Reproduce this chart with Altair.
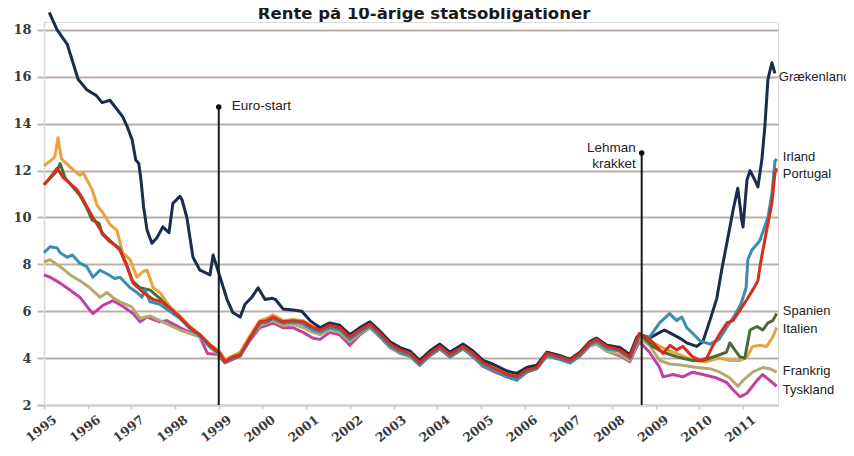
import altair as alt
import pandas as pd

TITLE = "Rente på 10-årige statsobligationer"

YEAR_TICKS = list(range(1995, 2012))
RATE_TICKS = [2, 4, 6, 8, 10, 12, 14, 16, 18]

# shared dates for the converged period 2001-2008
MID_T = [2001.54, 2001.77, 2002.0, 2002.23, 2002.46, 2002.69, 2002.92, 2003.15, 2003.38, 2003.6,
         2003.83, 2004.06, 2004.29, 2004.59, 2004.82, 2005.05, 2005.27, 2005.6, 2005.82, 2006.05,
         2006.28, 2006.51, 2006.81, 2007.04, 2007.27, 2007.49, 2007.65, 2007.88, 2008.18, 2008.41,
         2008.57]

# ---------------- Tyskland ----------------
TY_EARLY_T = [1995.0, 1995.14, 1995.37, 1995.6, 1995.82, 1996.05, 1996.12, 1996.35, 1996.58, 1996.81,
              1997.04, 1997.2, 1997.36, 1997.65, 1997.81, 1998.11, 1998.34, 1998.57, 1998.74, 1998.97,
              1999.14, 1999.32, 1999.49, 1999.71, 1999.94, 2000.1, 2000.24, 2000.47, 2000.7, 2000.93,
              2001.16, 2001.32]
TY_EARLY_V = [7.55, 7.45, 7.2, 6.9, 6.6, 6.05, 5.9, 6.25, 6.45, 6.2,
              5.9, 5.55, 5.75, 5.55, 5.6, 5.3, 5.1, 4.9, 4.2, 4.15,
              3.8, 3.95, 4.1, 4.75, 5.3, 5.4, 5.5, 5.3, 5.3, 5.1,
              4.85, 4.8]
TY_MID_V = [5.1, 5.0, 4.55, 5.0, 5.3, 4.9, 4.45, 4.2, 4.1, 3.7, 4.1, 4.4, 4.05, 4.4, 4.05, 3.65,
            3.45, 3.2, 3.1, 3.4, 3.55, 4.1, 3.95, 3.8, 4.1, 4.55, 4.6, 4.3, 4.1, 3.85, 4.5]
TY_LATE_T = [2008.63, 2008.86, 2009.09, 2009.17, 2009.4, 2009.62, 2009.85, 2010.08, 2010.4, 2010.63,
             2010.77, 2010.93, 2011.09, 2011.32, 2011.45, 2011.61, 2011.77]
TY_LATE_V = [4.7, 4.25, 3.6, 3.2, 3.3, 3.2, 3.4, 3.3, 3.15, 2.95,
             2.65, 2.35, 2.5, 3.05, 3.3, 3.05, 2.8]

# ---------------- Frankrig ----------------
FR_EARLY_T = [1995.0, 1995.14, 1995.37, 1995.6, 1995.82, 1996.05, 1996.28, 1996.44, 1996.6, 1996.74,
              1997.0, 1997.2, 1997.43, 1997.65, 1997.88, 1998.11, 1998.34, 1998.57, 1998.8, 1999.03,
              1999.14, 1999.32, 1999.49, 1999.71, 1999.94, 2000.1, 2000.24, 2000.47, 2000.7, 2000.93,
              2001.16, 2001.32]
FR_EARLY_V = [8.1, 8.2, 7.9, 7.55, 7.3, 7.0, 6.6, 6.8, 6.55, 6.4,
              6.2, 5.7, 5.8, 5.6, 5.4, 5.2, 5.05, 4.9, 4.45, 4.1,
              3.85, 4.0, 4.15, 4.8, 5.4, 5.5, 5.6, 5.4, 5.45, 5.3,
              5.1, 5.0]
FR_MID_V = [5.2, 5.1, 4.7, 5.05, 5.3, 4.9, 4.45, 4.2, 4.05, 3.7, 4.1, 4.4, 4.05, 4.4, 4.1, 3.7,
            3.5, 3.25, 3.15, 3.45, 3.55, 4.1, 3.95, 3.8, 4.1, 4.5, 4.6, 4.3, 4.15, 3.9, 4.6]
FR_LATE_T = [2008.63, 2008.86, 2009.09, 2009.32, 2009.62, 2009.94, 2010.24, 2010.47, 2010.7, 2010.88,
             2011.0, 2011.22, 2011.45, 2011.61, 2011.77]
FR_LATE_V = [4.85, 4.55, 3.9, 3.75, 3.7, 3.6, 3.55, 3.4, 3.15, 2.8,
             3.05, 3.4, 3.6, 3.55, 3.4]

# ---------------- Italien ----------------
IT_EARLY_T = [1995.0, 1995.2, 1995.25, 1995.32, 1995.4, 1995.6, 1995.82, 1995.9, 1996.1, 1996.22,
              1996.35, 1996.51, 1996.67, 1996.8, 1996.97, 1997.13, 1997.27, 1997.36, 1997.5, 1997.65,
              1997.88, 1998.11, 1998.34, 1998.57, 1998.8, 1999.03, 1999.14, 1999.32, 1999.49, 1999.71,
              1999.94, 2000.1, 2000.24, 2000.47, 2000.7, 2000.93, 2001.16, 2001.32]
IT_EARLY_V = [12.2, 12.5, 12.6, 13.4, 12.5, 12.15, 11.8, 11.9, 11.2, 10.5,
              10.2, 9.7, 9.45, 8.5, 8.2, 7.45, 7.7, 7.75, 7.0, 6.8,
              6.2, 5.8, 5.35, 5.0, 4.6, 4.25, 3.95, 4.1, 4.25, 4.95,
              5.6, 5.7, 5.85, 5.6, 5.65, 5.6, 5.35, 5.25]
IT_MID_V = [5.45, 5.35, 5.0, 5.25, 5.5, 5.1, 4.65, 4.4, 4.25, 3.85, 4.25, 4.55, 4.2, 4.55, 4.25, 3.85,
            3.65, 3.4, 3.3, 3.6, 3.7, 4.25, 4.1, 3.95, 4.25, 4.7, 4.85, 4.55, 4.45, 4.15, 4.85]
IT_LATE_T = [2008.63, 2008.94, 2009.26, 2009.55, 2009.85, 2010.17, 2010.47, 2010.7, 2010.93, 2011.09,
             2011.22, 2011.38, 2011.54, 2011.68, 2011.77]
IT_LATE_V = [5.0, 4.65, 4.35, 4.15, 3.9, 3.85, 4.0, 3.9, 3.9, 4.05,
             4.5, 4.55, 4.5, 4.9, 5.3]

# ---------------- Spanien ----------------
SP_EARLY_T = [1995.0, 1995.3, 1995.37, 1995.48, 1995.66, 1995.82, 1995.97, 1996.1, 1996.26, 1996.33,
              1996.49, 1996.72, 1996.88, 1997.02, 1997.2, 1997.43, 1997.65, 1997.88, 1998.11, 1998.34,
              1998.57, 1998.8, 1999.03, 1999.14, 1999.32, 1999.49, 1999.71, 1999.94, 2000.1, 2000.24,
              2000.47, 2000.7, 2000.93, 2001.16, 2001.32]
SP_EARLY_V = [11.4, 12.0, 12.3, 11.7, 11.3, 10.95, 10.45, 9.9, 9.75, 9.3,
              9.0, 8.7, 8.05, 7.3, 7.0, 6.9, 6.55, 6.1, 5.7, 5.3,
              4.95, 4.5, 4.15, 3.85, 4.0, 4.1, 4.8, 5.5, 5.55, 5.7,
              5.5, 5.55, 5.5, 5.25, 5.15]
SP_MID_V = [5.35, 5.25, 4.85, 5.15, 5.4, 5.0, 4.55, 4.3, 4.15, 3.75, 4.15, 4.45, 4.1, 4.45, 4.15, 3.75,
            3.55, 3.3, 3.2, 3.5, 3.6, 4.15, 4.0, 3.85, 4.15, 4.6, 4.75, 4.45, 4.3, 4.0, 4.7]
SP_LATE_T = [2008.63, 2008.93, 2009.17, 2009.49, 2009.85, 2010.08, 2010.4, 2010.62, 2010.7, 2010.81,
             2010.93, 2011.04, 2011.16, 2011.32, 2011.45, 2011.57, 2011.68, 2011.77]
SP_LATE_V = [5.05, 4.5, 4.25, 4.05, 3.9, 3.9, 4.1, 4.25, 4.65, 4.35,
             4.05, 4.0, 5.2, 5.35, 5.2, 5.5, 5.6, 5.9]

# ---------------- Grækenland ----------------
GR_EARLY_T = [1995.12, 1995.3, 1995.53, 1995.78, 1995.98, 1996.2, 1996.33, 1996.51, 1996.8, 1996.91,
              1997.02, 1997.1, 1997.17, 1997.22, 1997.28, 1997.36, 1997.47, 1997.59, 1997.72, 1997.86,
              1997.95, 1998.11, 1998.16, 1998.27, 1998.41, 1998.57, 1998.8, 1998.87, 1998.98, 1999.19,
              1999.32, 1999.49, 1999.6, 1999.76, 1999.9, 2000.06, 2000.22, 2000.3, 2000.47, 2000.7,
              2000.9, 2001.09, 2001.32]
GR_EARLY_V = [18.75, 18.0, 17.4, 15.9, 15.45, 15.2, 14.9, 15.0, 14.3, 13.85,
              13.3, 12.45, 12.3, 11.6, 10.45, 9.45, 8.9, 9.15, 9.6, 9.35,
              10.6, 10.9, 10.75, 10.0, 8.3, 7.75, 7.55, 8.4, 7.75, 6.5,
              5.95, 5.75, 6.3, 6.6, 7.0, 6.5, 6.55, 6.5, 6.1, 6.05,
              6.0, 5.6, 5.3]
GR_MID_V = [5.5, 5.4, 5.0, 5.3, 5.55, 5.15, 4.7, 4.45, 4.3, 3.9, 4.3, 4.6, 4.25, 4.6, 4.3, 3.9,
            3.75, 3.45, 3.35, 3.6, 3.7, 4.25, 4.1, 3.95, 4.25, 4.7, 4.85, 4.55, 4.45, 4.15, 4.9]
GR_LATE_T = [2008.63, 2008.86, 2009.0, 2009.2, 2009.4, 2009.6, 2009.71, 2009.94, 2010.08, 2010.24,
             2010.4, 2010.51, 2010.7, 2010.77, 2010.88, 2010.97, 2011.0, 2011.09, 2011.16, 2011.27,
             2011.34, 2011.43, 2011.5, 2011.57, 2011.66, 2011.73]
GR_LATE_V = [5.0, 4.85, 5.0, 5.2, 5.0, 4.8, 4.65, 4.5, 4.7, 5.6,
             6.55, 7.75, 9.6, 10.3, 11.25, 9.9, 9.6, 11.6, 12.0, 11.6,
             11.3, 12.45, 13.9, 15.9, 16.6, 16.15]

# ---------------- Irland ----------------
IR_EARLY_T = [1995.0, 1995.14, 1995.3, 1995.37, 1995.53, 1995.65, 1995.82, 1995.98, 1996.12, 1996.28,
              1996.44, 1996.62, 1996.74, 1996.97, 1997.13, 1997.24, 1997.31, 1997.43, 1997.65, 1997.88,
              1998.11, 1998.34, 1998.57, 1998.8, 1999.03, 1999.14, 1999.32, 1999.49, 1999.71, 1999.94,
              2000.1, 2000.24, 2000.47, 2000.7, 2000.93, 2001.16, 2001.32]
IR_EARLY_V = [8.5, 8.75, 8.7, 8.5, 8.3, 8.4, 8.05, 7.9, 7.45, 7.75,
              7.6, 7.4, 7.45, 7.0, 6.8, 6.6, 6.9, 6.4, 6.3, 6.0,
              5.7, 5.25, 4.95, 4.5, 4.15, 3.85, 4.0, 4.15, 4.8, 5.5,
              5.55, 5.7, 5.5, 5.55, 5.45, 5.2, 5.1]
IR_MID_V = [5.3, 5.2, 4.8, 5.1, 5.35, 4.95, 4.5, 4.25, 4.1, 3.7, 4.1, 4.4, 4.05, 4.4, 4.1, 3.7,
            3.5, 3.2, 3.05, 3.4, 3.55, 4.1, 3.95, 3.8, 4.1, 4.55, 4.7, 4.4, 4.3, 4.0, 4.7]
IR_LATE_T = [2008.63, 2008.86, 2009.09, 2009.32, 2009.48, 2009.6, 2009.71, 2009.85, 2010.01, 2010.24,
             2010.45, 2010.62, 2010.8, 2010.95, 2011.07, 2011.11, 2011.2, 2011.38, 2011.57, 2011.66,
             2011.73, 2011.77]
IR_LATE_V = [5.0, 4.9, 5.5, 5.9, 5.6, 5.75, 5.3, 5.05, 4.75, 4.6,
             4.8, 5.3, 5.8, 6.3, 7.0, 8.2, 8.6, 9.0, 10.0, 11.0,
             12.4, 12.5]

# ---------------- Portugal ----------------
PT_EARLY_T = [1995.0, 1995.14, 1995.3, 1995.44, 1995.75, 1995.9, 1996.12, 1996.35, 1996.58, 1996.74,
              1996.9, 1997.04, 1997.27, 1997.5, 1997.7, 1997.88, 1998.11, 1998.34, 1998.57, 1998.8,
              1999.03, 1999.14, 1999.32, 1999.49, 1999.71, 1999.94, 2000.1, 2000.24, 2000.47, 2000.7,
              2000.93, 2001.16, 2001.32]
PT_EARLY_V = [11.4, 11.7, 12.1, 11.7, 11.2, 10.75, 10.0, 9.3, 8.9, 8.6,
              7.9, 7.2, 6.8, 6.5, 6.4, 6.15, 5.75, 5.3, 5.0, 4.55,
              4.2, 3.85, 4.05, 4.15, 4.85, 5.55, 5.6, 5.75, 5.55, 5.6,
              5.55, 5.3, 5.2]
PT_MID_V = [5.4, 5.3, 4.9, 5.2, 5.45, 5.05, 4.6, 4.35, 4.2, 3.8, 4.2, 4.5, 4.15, 4.5, 4.2, 3.8,
            3.6, 3.3, 3.2, 3.5, 3.6, 4.2, 4.05, 3.9, 4.2, 4.65, 4.8, 4.5, 4.35, 4.05, 4.8]
PT_LATE_T = [2008.63, 2008.86, 2009.02, 2009.17, 2009.33, 2009.48, 2009.62, 2009.85, 2010.01, 2010.17,
             2010.3, 2010.47, 2010.63, 2010.77, 2010.93, 2011.09, 2011.22, 2011.34, 2011.4, 2011.54,
             2011.66, 2011.73, 2011.77]
PT_LATE_V = [5.05, 4.8, 4.5, 4.2, 4.55, 4.35, 4.5, 4.05, 3.9, 4.0,
             4.5, 5.05, 5.5, 5.6, 6.05, 6.5, 6.9, 7.3, 8.05, 9.45,
             10.6, 11.9, 12.1]

# drawing order (bottom to top), colours
SERIES = [
    ("Tyskland", "#c2409e", TY_EARLY_T, TY_EARLY_V, TY_MID_V, TY_LATE_T, TY_LATE_V),
    ("Frankrig", "#b3ab6c", FR_EARLY_T, FR_EARLY_V, FR_MID_V, FR_LATE_T, FR_LATE_V),
    ("Italien", "#e8a23e", IT_EARLY_T, IT_EARLY_V, IT_MID_V, IT_LATE_T, IT_LATE_V),
    ("Spanien", "#4a6c37", SP_EARLY_T, SP_EARLY_V, SP_MID_V, SP_LATE_T, SP_LATE_V),
    ("Grækenland", "#1b2d4d", GR_EARLY_T, GR_EARLY_V, GR_MID_V, GR_LATE_T, GR_LATE_V),
    ("Irland", "#3a8db2", IR_EARLY_T, IR_EARLY_V, IR_MID_V, IR_LATE_T, IR_LATE_V),
    ("Portugal", "#d52f1f", PT_EARLY_T, PT_EARLY_V, PT_MID_V, PT_LATE_T, PT_LATE_V),
]

# end labels
LABEL_NAMES = ["Grækenland", "Irland", "Portugal", "Spanien", "Italien", "Frankrig", "Tyskland"]
LABEL_Y = [16.0, 12.58, 11.85, 6.0, 5.24, 3.45, 2.64]
LABEL_X = [2011.82, 2011.91, 2011.91, 2011.91, 2011.91, 2011.91, 2011.91]

# events
EVENT_TEXT = ["Euro-start", "Lehman\nkrakket"]
EVENT_X = [1999.0, 2008.68]
EVENT_TOP = [14.71, 12.75]
EVENT_TEXT_Y = [14.75, 12.98]

rows = []
for name, color, et, ev, mv, lt, lv in SERIES:
    for t, v in zip(et + MID_T + lt, ev + mv + lv):
        rows.append({"country": name, "year": t, "rate": v})
df = pd.DataFrame(rows)

x_scale = alt.Scale(domain=[1995, 2011.8], nice=False, zero=False)
y_scale = alt.Scale(domain=[2, 18.34], nice=False, zero=False)

x_axis = alt.Axis(values=YEAR_TICKS, format="d", labelAngle=-38, labelFont="DejaVu Serif",
                  labelFontWeight="bold", labelFontSize=12.5, labelColor="#3a3a3a",
                  labelPadding=4, labelOffset=7, tickSize=4, tickColor="#cfc6c0", tickWidth=1.5,
                  domainColor="#d6cec9", domainWidth=2, grid=False, title=None,
                  labelOverlap=False)
y_axis = alt.Axis(values=RATE_TICKS, format="d", grid=True,
                  gridColor=alt.condition("datum.value == 2", alt.value("#ddd6d2"), alt.value("#bcaea6")),
                  gridWidth=2, domain=True, domainColor="#dcd5d0", domainWidth=1.5,
                  tickColor="#c3b7b0", tickSize=7, tickWidth=2,
                  labelFont="DejaVu Serif", labelFontWeight="bold", labelFontSize=13,
                  labelColor="#3a3a3a", labelPadding=6, title=None)

layers = []
for i, (name, color, *_rest) in enumerate(SERIES):
    sub = df[df["country"] == name]
    layers.append(
        alt.Chart(sub).mark_line(color=color, strokeWidth=3, strokeJoin="round").encode(
            x=alt.X("year:Q", scale=x_scale, axis=x_axis),
            y=alt.Y("rate:Q", scale=y_scale, axis=y_axis),
            order="year:Q",
        )
    )

ev = pd.DataFrame({"text": EVENT_TEXT, "x": EVENT_X, "top": EVENT_TOP,
                   "ty": EVENT_TEXT_Y, "bottom": [2, 2]})
rules = alt.Chart(ev).mark_rule(color="#1a1a1a", strokeWidth=2).encode(
    x="x:Q", y="bottom:Q", y2="top:Q")
dots = alt.Chart(ev).mark_point(filled=True, color="#111", size=30, opacity=1).encode(
    x="x:Q", y="top:Q")
euro_txt = alt.Chart(ev[ev["text"] == "Euro-start"]).mark_text(
    align="left", baseline="middle", dx=13, font="Liberation Sans", fontSize=13.5,
    color="#222").encode(x="x:Q", y="ty:Q", text="text:N")
lehman_txt = alt.Chart(ev[ev["text"] != "Euro-start"]).mark_text(
    align="right", baseline="middle", dx=-6, font="Liberation Sans", fontSize=13.5,
    lineBreak="\n", lineHeight=16, color="#222").encode(x="x:Q", y="ty:Q", text="text:N")

lab = pd.DataFrame({"name": LABEL_NAMES, "y": LABEL_Y, "x": LABEL_X})
labels = alt.Chart(lab).mark_text(align="left", baseline="middle", font="Liberation Sans",
                                  fontSize=13, color="#222").encode(
    x="x:Q", y="y:Q", text="name:N")

chart = alt.layer(*layers, rules, dots, euro_txt, lehman_txt, labels).properties(
    width=734, height=383,
    autosize=alt.AutoSizeParams(type="none"),
    padding={"left": 36, "top": 14, "right": 68, "bottom": 43},
    title=alt.TitleParams(TITLE, font="DejaVu Sans", fontSize=16.5, fontWeight="bold",
                          anchor="middle", dx=13, offset=-12, frame="group",
                          color="#1a1a1a"),
).configure_view(stroke=None).configure(background="white")

chart.save("out.html", embed_options={"renderer": "svg", "actions": False})
